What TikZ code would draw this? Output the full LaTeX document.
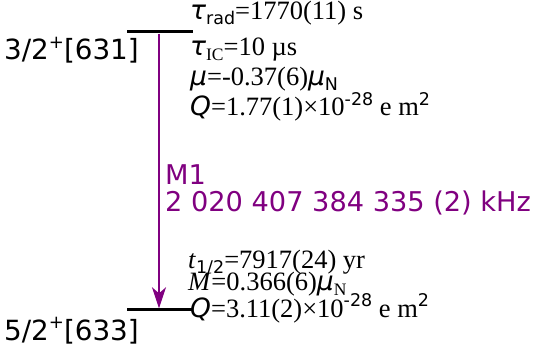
\documentclass[tikz,border=0pt]{standalone}
\usepackage{fontspec}
\setmainfont{Liberation Serif}
\newfontfamily\vsans{DejaVu Sans}
\usetikzlibrary{arrows.meta}
\definecolor{mpurple}{RGB}{128,0,128}
\newcommand\sersize{\fontsize{26.5}{27}\selectfont}
\newcommand\lblsize{\fontsize{27.8}{28}\selectfont}
\newcommand\trsize{\fontsize{27.2}{28}\selectfont}
\newcommand\smallsz{\fontsize{17.5}{17.5}\selectfont}
\newcommand\subs[1]{\lower4.5pt\hbox{\smallsz #1}}
\newcommand\sups[1]{\raise10.5pt\hbox{\smallsz #1}}
\newcommand\gi[1]{{\vsans\itshape #1}}
\begin{document}
\begin{tikzpicture}[x=1pt,y=-1pt,
  level/.style={fill=black,inner sep=0pt,minimum width=66pt,minimum height=3pt},
  val/.style={anchor=base west,inner sep=0pt,font=\sersize},
  lbl/.style={anchor=base west,inner sep=0pt,font=\vsans\lblsize},
  trans/.style={anchor=base west,inner sep=0pt,font=\vsans\trsize,text=mpurple}]
\path[use as bounding box] (0,0) rectangle (535,352);
\node[level] (up) at (160,32) {};
\node[level] (low) at (160,310) {};
\draw[mpurple,line width=2pt,-{Stealth[length=21pt,width=14pt,inset=6pt]}] (up.south -| 159,0) -- (low.north -| 159,0);
\node[lbl] (lu) at (4,60) {3/2\raise11pt\hbox{\fontsize{18}{18}\selectfont +}[631]};
\node[lbl] (ll) at (4,340) {5/2\raise11pt\hbox{\fontsize{18}{18}\selectfont +}[633]};
\node[val] (v1) at (190,20) {\gi{τ}\subs{\vsans rad}=1770(11) s};
\node[val] (v2) at (190,56) {\gi{τ}\subs{IC}=10 µs};
\node[val] (v3) at (190,86) {\gi{μ}=-0.37(6)\gi{μ}\subs{\vsans N}};
\node[val] (v4) at (190,116) {\gi{Q}=1.77(1)×10\sups{\vsans -28} e m\sups{\vsans 2}};
\node[trans] (m1) at (165,185) {M1};
\node[trans] (fr) at (165,212) {2 020 407 384 335 (2) kHz};
\node[val] (w1) at (188,269) {\textit{t}\subs{\vsans 1/2}=7917(24) yr};
\node[val] (w2) at (188,291) {\textit{M}=0.366(6)\gi{μ}\subs{N}};
\node[val] (w3) at (190,317) {\gi{Q}=3.11(2)×10\sups{\vsans -28} e m\sups{\vsans 2}};
\end{tikzpicture}
\end{document}
